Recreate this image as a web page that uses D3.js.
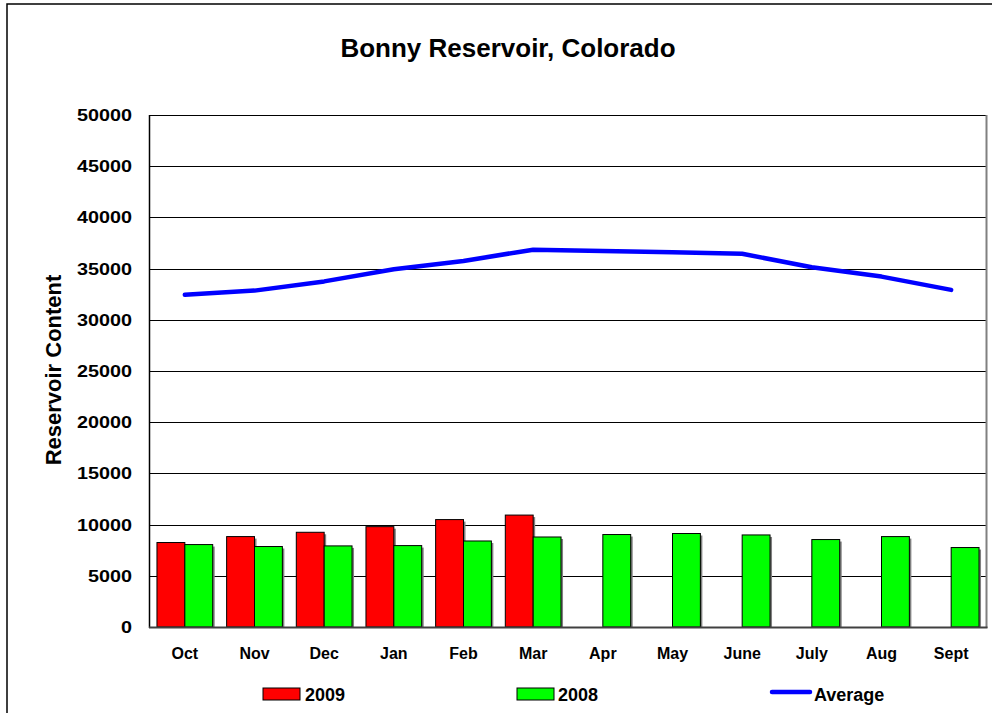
<!DOCTYPE html>
<html>
<head>
<meta charset="utf-8">
<script src="https://cdn.jsdelivr.net/npm/d3@7"></script>
<style>
  html, body { margin: 0; padding: 0; background: #fff; }
  svg { display: block; font-family: "Liberation Sans", Arial, sans-serif; }
</style>
</head>
<body>
<svg id="chart" width="992" height="713"></svg>
<script>
const months = ["Oct","Nov","Dec","Jan","Feb","Mar","Apr","May","June","July","Aug","Sept"];
const values2009 = [8250, 8830, 9250, 9800, 10490, 10930, null, null, null, null, null, null];
const values2008 = [8050, 7860, 7920, 7950, 8400, 8790, 9030, 9130, 8990, 8540, 8830, 7760];
const averageValues = [32440, 32850, 33750, 34940, 35750, 36850, 36730, 36600, 36450, 35130, 34220, 32920];
const yTicks = [0, 5000, 10000, 15000, 20000, 25000, 30000, 35000, 40000, 45000, 50000];
const seriesNames = ["2009", "2008", "Average"];
const seriesColors = ["#FF0000", "#00FF00", "#0000FF"];

const svg = d3.select("#chart");
const m = { left: 150, right: 986, top: 115, bottom: 627 };

// outer frame
svg.append("rect").attr("x", 7).attr("y", 4).attr("width", 1000).attr("height", 730)
  .attr("fill", "#fff").attr("stroke", "#000").attr("stroke-width", 1.5);

const x = d3.scaleBand().domain(months).range([m.left, m.right]).padding(0);
const bw = x.bandwidth();
const x1 = d3.scaleBand().domain(["2009", "2008"]).range([bw * 0.1, bw * 0.9]).padding(0);
const y = d3.scaleLinear().domain([0, 50000]).range([m.bottom, m.top]);

// title
svg.append("text").attr("x", 508).attr("y", 57).attr("text-anchor", "middle")
  .attr("font-size", 26).attr("font-weight", "bold").text("Bonny Reservoir, Colorado");

// gridlines
svg.append("g").selectAll("line").data(yTicks.filter(d => d > 0)).join("line")
  .attr("x1", m.left).attr("x2", m.right)
  .attr("y1", d => Math.round(y(d)) + 0.5).attr("y2", d => Math.round(y(d)) + 0.5)
  .attr("stroke", "#000").attr("stroke-width", 1);

// plot frame right gray
svg.append("line").attr("x1", m.right + 0.5).attr("x2", m.right + 0.5).attr("y1", m.top).attr("y2", m.bottom + 1)
  .attr("stroke", "#808080").attr("stroke-width", 2);

// bars with shadow
const barData = [];
months.forEach((mo, i) => {
  if (values2009[i] != null) barData.push({ mo, s: "2009", v: values2009[i], c: seriesColors[0] });
  if (values2008[i] != null) barData.push({ mo, s: "2008", v: values2008[i], c: seriesColors[1] });
});
const bars = svg.append("g");
bars.selectAll("rect.shadow").data(barData).join("rect").attr("class", "shadow")
  .attr("x", d => x(d.mo) + x1(d.s) + 2).attr("y", d => y(d.v) + 2)
  .attr("width", x1.bandwidth()).attr("height", d => m.bottom - y(d.v) - 2)
  .attr("fill", "#808080");
bars.selectAll("rect.bar").data(barData).join("rect").attr("class", "bar")
  .attr("x", d => x(d.mo) + x1(d.s)).attr("y", d => y(d.v))
  .attr("width", x1.bandwidth()).attr("height", d => m.bottom - y(d.v))
  .attr("fill", d => d.c).attr("stroke", "#000").attr("stroke-width", 1);

// axes lines
svg.append("line").attr("x1", m.left - 0.5).attr("x2", m.left - 0.5).attr("y1", m.top).attr("y2", m.bottom + 1)
  .attr("stroke", "#000").attr("stroke-width", 1.5);
svg.append("line").attr("x1", m.left - 1).attr("x2", m.right + 1.5).attr("y1", m.bottom + 0.5).attr("y2", m.bottom + 0.5)
  .attr("stroke", "#404040").attr("stroke-width", 2);

// average line
const line = d3.line().x((d, i) => x(months[i]) + bw / 2).y(d => y(d));
svg.append("path").datum(averageValues).attr("d", line)
  .attr("fill", "none").attr("stroke", seriesColors[2]).attr("stroke-width", 4.5)
  .attr("stroke-linecap", "round").attr("stroke-linejoin", "round");

// y tick labels
svg.append("g").selectAll("text").data(yTicks).join("text")
  .attr("transform", d => `translate(132,${y(d) + 6}) scale(1.2,1)`)
  .attr("text-anchor", "end").attr("font-size", 16.5).attr("font-weight", "bold")
  .text(d => d);

// x labels
svg.append("g").selectAll("text").data(months).join("text")
  .attr("x", d => x(d) + bw / 2).attr("y", 659).attr("text-anchor", "middle")
  .attr("font-size", 16).attr("font-weight", "bold").text(d => d);

// y title
svg.append("text").attr("transform", `translate(61,${(m.top + m.bottom) / 2 - 1}) rotate(-90)`)
  .attr("text-anchor", "middle").attr("font-size", 22).attr("font-weight", "bold")
  .text("Reservoir Content");

// legend
const lg = svg.append("g");
const legendX = [263, 517, 772];
lg.append("rect").attr("x", legendX[0]).attr("y", 688).attr("width", 37).attr("height", 12)
  .attr("fill", seriesColors[0]).attr("stroke", "#000").attr("stroke-width", 1);
lg.append("rect").attr("x", legendX[1]).attr("y", 688).attr("width", 37).attr("height", 12)
  .attr("fill", seriesColors[1]).attr("stroke", "#000").attr("stroke-width", 1);
lg.append("line").attr("x1", legendX[2]).attr("x2", legendX[2] + 38).attr("y1", 692).attr("y2", 692)
  .attr("stroke", seriesColors[2]).attr("stroke-width", 4.5).attr("stroke-linecap", "round");
const textX = [305, 558, 814];
seriesNames.forEach((n, i) => {
  lg.append("text").attr("x", textX[i]).attr("y", 701)
    .attr("font-size", 18).attr("font-weight", "bold").text(n);
});
</script>
</body>
</html>
